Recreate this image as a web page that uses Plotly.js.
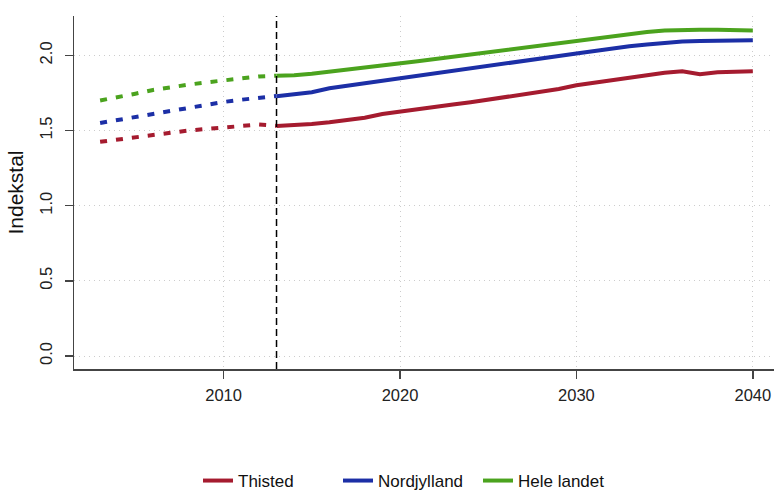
<!DOCTYPE html>
<html><head><meta charset="utf-8">
<script src="https://cdn.plot.ly/plotly-3.0.1.min.js"></script>
<style>html,body{margin:0;padding:0;background:#fff}#chart{width:774px;height:493px}</style>
</head><body><div id="chart"></div>
<script>
// Historical (dotted) part
const histYears = [2003,2004,2005,2006,2007,2008,2009,2010,2011,2012,2013];
const thistedHist = [1.425,1.440,1.455,1.475,1.490,1.500,1.510,1.520,1.530,1.540,1.532];
const nordjyllandHist = [1.550,1.570,1.590,1.615,1.635,1.655,1.670,1.690,1.705,1.720,1.730];
const heleLandetHist = [1.700,1.720,1.745,1.770,1.790,1.805,1.820,1.835,1.850,1.860,1.865];

// Projection (solid) part
const projYears = [2013,2014,2015,2016,2017,2018,2019,2020,2021,2022,2023,2024,2025,2026,2027,2028,2029,2030,2031,2032,2033,2034,2035,2036,2037,2038,2039,2040];
const thistedProj = [1.530,1.535,1.543,1.555,1.568,1.585,1.610,1.627,1.643,1.658,1.673,1.688,1.705,1.723,1.740,1.758,1.776,1.801,1.818,1.836,1.853,1.868,1.884,1.895,1.875,1.888,1.893,1.895];
const nordjyllandProj = [1.728,1.740,1.755,1.781,1.798,1.813,1.830,1.847,1.864,1.883,1.899,1.915,1.931,1.946,1.963,1.980,1.996,2.012,2.030,2.046,2.060,2.073,2.086,2.093,2.096,2.098,2.099,2.100];
const heleLandetProj = [1.865,1.868,1.878,1.891,1.903,1.916,1.930,1.946,1.961,1.976,1.991,2.006,2.021,2.038,2.053,2.069,2.085,2.100,2.116,2.130,2.143,2.155,2.165,2.170,2.171,2.171,2.170,2.166];

const seriesNames = ["Thisted", "Nordjylland", "Hele landet"];
const seriesColors = ["#A51B2F", "#1C2FA6", "#4BA31E"];
const projectionStart = 2013;

const xTickVals = [2010, 2020, 2030, 2040];
const yTickVals = [0, 0.5, 1, 1.5, 2];
const yTickText = ["0.0", "0.5", "1.0", "1.5", "2.0"];

const histSeries = [thistedHist, nordjyllandHist, heleLandetHist];
const projSeries = [thistedProj, nordjyllandProj, heleLandetProj];

const traces = [];
for (let i = 0; i < 3; i++) {
  traces.push({
    x: histYears, y: histSeries[i], type: 'scatter', mode: 'lines',
    line: {color: seriesColors[i], width: 4, dash: '7px,9px'},
    showlegend: false, hoverinfo: 'skip', name: seriesNames[i]
  });
}
for (let i = 0; i < 3; i++) {
  traces.push({
    x: projYears, y: projSeries[i], type: 'scatter', mode: 'lines',
    line: {color: seriesColors[i], width: 4},
    name: seriesNames[i], showlegend: true
  });
}

const font = "'Liberation Sans', Arial, sans-serif";
const layout = {
  width: 774, height: 493,
  margin: {l: 74, r: 0, t: 16, b: 124, pad: 0},
  paper_bgcolor: '#fff', plot_bgcolor: '#fff',
  font: {family: font, size: 16, color: '#222'},
  xaxis: {
    range: [2001.52, 2041.2],
    tickvals: xTickVals, ticktext: xTickVals.map(String),
    showgrid: true, gridcolor: '#cccccc', griddash: '1px,4px', gridwidth: 1,
    showline: true, linecolor: '#444', linewidth: 1.5,
    ticks: 'outside', ticklen: 8, tickwidth: 1.5, tickcolor: '#444',
    zeroline: false, tickfont: {size: 16.5, color: '#222'}, ticklabelstandoff: 3
  },
  yaxis: {
    range: [-0.0865, 2.262],
    tickvals: yTickVals, ticktext: yTickText, tickangle: -90,
    showgrid: true, gridcolor: '#cccccc', griddash: '1px,4px', gridwidth: 1,
    showline: true, linecolor: '#444', linewidth: 1.5,
    ticks: 'outside', ticklen: 8, tickwidth: 1.5, tickcolor: '#444',
    zeroline: false, tickfont: {size: 16.5, color: '#222'}, ticklabelstandoff: 6,
    title: {text: 'Indekstal', font: {size: 21, color: '#111'}, standoff: 7}
  },
  shapes: [{
    type: 'line', xref: 'x', yref: 'paper', x0: projectionStart, x1: projectionStart, y0: 0, y1: 1,
    line: {color: '#000', width: 1.5, dash: '7px,4px'}
  }],
  showlegend: true,
  legend: {
    orientation: 'h', xref: 'container', yref: 'container',
    x: 198 / 774, xanchor: 'left', y: 12 / 493, yanchor: 'middle',
    font: {size: 17, color: '#111'}, entrywidth: 95, entrywidthmode: 'pixels',
    bgcolor: 'rgba(0,0,0,0)', borderwidth: 0, traceorder: 'normal'
  }
};
Plotly.newPlot('chart', traces, layout, {displayModeBar: false, staticPlot: true});
</script></body></html>
